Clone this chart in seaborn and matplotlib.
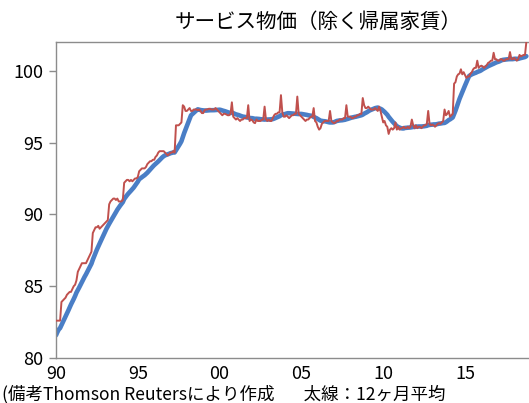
import matplotlib
matplotlib.use("Agg")
import matplotlib.pyplot as plt
import numpy as np
import pandas as pd
import seaborn as sns

# Monthly service CPI (excluding imputed rent)
y1989 = [80.0, 80.0, 80.4, 81.4, 81.5, 81.6, 81.7, 81.8, 81.9, 82.0, 82.0, 82.1]
y1990 = [82.6, 82.6, 82.6, 82.6, 83.9, 84.0, 84.1, 84.2, 84.4, 84.5, 84.6, 84.6]
y1991 = [84.8, 85.0, 85.1, 85.4, 86.0, 86.2, 86.4, 86.6, 86.6, 86.6, 86.6, 86.8]
y1992 = [87.0, 87.2, 87.4, 88.7, 88.9, 89.1, 89.1, 89.2, 89.0, 89.1, 89.2, 89.3]
y1993 = [89.4, 89.5, 89.6, 90.7, 90.9, 91.0, 91.1, 91.1, 91.0, 91.1, 90.9, 90.9]
y1994 = [90.9, 91.0, 92.2, 92.3, 92.4, 92.4, 92.3, 92.4, 92.3, 92.4, 92.5, 92.5]
y1995 = [92.6, 93.0, 93.1, 93.2, 93.2, 93.2, 93.3, 93.5, 93.6, 93.7, 93.7, 93.8]
y1996 = [93.8, 94.0, 94.1, 94.3, 94.4, 94.4, 94.4, 94.4, 94.3, 94.2, 94.1, 94.2]
y1997 = [94.3, 94.3, 94.4, 94.3, 96.2, 96.2, 96.2, 96.3, 96.4, 97.6, 97.5, 97.2]
y1998 = [97.2, 97.3, 97.4, 97.2, 97.2, 97.3, 97.3, 97.3, 97.25, 97.3, 97.2, 97.05]
y1999 = [97.05, 97.25, 97.3, 97.3, 97.35, 97.35, 97.3, 97.3, 97.3, 97.4, 97.3, 97.2]
y2000 = [97.1, 97.0, 96.9, 97.0, 97.0, 96.95, 96.9, 96.9, 97.0, 97.8, 96.8, 96.7]
y2001 = [96.6, 96.7, 96.6, 96.5, 96.6, 96.6, 96.7, 96.7, 96.7, 97.6, 96.5, 96.6]
y2002 = [96.55, 96.4, 96.35, 96.6, 96.5, 96.5, 96.5, 96.6, 96.6, 97.5, 96.6, 96.5]
y2003 = [96.6, 96.5, 96.5, 96.7, 96.9, 97.0, 97.0, 97.1, 97.1, 98.3, 97.1, 96.8]
y2004 = [96.8, 96.9, 96.8, 96.7, 96.8, 96.9, 96.9, 97.0, 97.0, 98.2, 97.0, 96.9]
y2005 = [96.8, 96.7, 96.6, 96.5, 96.6, 96.6, 96.7, 96.8, 96.8, 97.4, 96.5, 96.4]
y2006 = [96.1, 95.9, 96.0, 96.3, 96.4, 96.5, 96.5, 96.5, 96.5, 97.2, 96.5, 96.4]
y2007 = [96.35, 96.4, 96.5, 96.5, 96.6, 96.6, 96.6, 96.7, 96.7, 97.6, 96.8, 96.8]
y2008 = [96.8, 96.7, 96.7, 96.8, 96.8, 96.9, 96.9, 97.0, 97.0, 98.1, 97.6, 97.4]
y2009 = [97.4, 97.5, 97.4, 97.3, 97.3, 97.3, 97.4, 97.3, 97.2, 97.5, 97.2, 96.8]
y2010 = [96.4, 96.5, 96.2, 96.1, 95.6, 95.9, 96.0, 95.9, 96.0, 96.4, 95.9, 96.1]
y2011 = [95.9, 96.0, 96.0, 96.1, 96.0, 96.0, 96.1, 96.0, 96.1, 96.6, 96.2, 96.0]
y2012 = [96.2, 96.0, 96.1, 96.1, 96.0, 96.1, 96.2, 96.2, 96.3, 97.2, 96.3, 96.2]
y2013 = [96.25, 96.2, 96.1, 96.2, 96.3, 96.35, 96.3, 96.4, 96.5, 97.3, 96.9, 97.0]
y2014 = [97.2, 96.8, 96.9, 97.0, 99.1, 99.2, 99.6, 99.75, 99.8, 100.1, 99.75, 99.9]
y2015 = [99.7, 99.5, 99.6, 99.6, 99.8, 99.9, 100.1, 100.2, 100.2, 100.7, 100.2, 100.3]
y2016 = [100.35, 100.3, 100.2, 100.3, 100.4, 100.55, 100.6, 100.7, 100.7, 101.25, 100.8, 100.8]
y2017 = [100.7, 100.7, 100.8, 100.8, 100.7, 100.7, 100.8, 100.8, 100.8, 101.3, 100.8, 100.8]
y2018 = [100.9, 100.8, 100.7, 100.8, 101.1, 101.0, 101.05, 101.1, 101.1, 102.0]

yearly = [y1989, y1990, y1991, y1992, y1993, y1994, y1995, y1996, y1997, y1998,
          y1999, y2000, y2001, y2002, y2003, y2004, y2005, y2006, y2007, y2008,
          y2009, y2010, y2011, y2012, y2013, y2014, y2015, y2016, y2017, y2018]
first_year = 1989

tick_years = [1990, 1995, 2000, 2005, 2010, 2015]
tick_labels = ["90", "95", "00", "05", "10", "15"]
y_ticks = [80, 85, 90, 95, 100]

title = "サービス物価（除く帰属家賃）"
note = "(備考Thomson Reutersにより作成\u3000   太線：12ヶ月平均"

rows = []
for k, vals in enumerate(yearly):
    for m, v in enumerate(vals):
        rows.append({"t": first_year + k + m / 12.0, "cpi": v})
df = pd.DataFrame(rows)
df["ma12"] = df["cpi"].rolling(12).mean()
plot_df = df[df["t"] >= 1990].reset_index(drop=True)

sns.set_style("white")
plt.rcParams["font.family"] = ["Noto Sans CJK JP", "DejaVu Sans"]

W, H = 529, 403
fig = plt.figure(figsize=(W / 100, H / 100), dpi=100)
ax = fig.add_axes([56 / W, 45 / H, (W - 56) / W, 316 / H])

sns.lineplot(data=plot_df, x="t", y="ma12", color="#4A7EC6", linewidth=3.3,
             estimator=None, ax=ax, zorder=2)
sns.lineplot(data=plot_df, x="t", y="cpi", color="#C0504D", linewidth=1.4,
             estimator=None, ax=ax, zorder=3)

ax.set_xlim(1990, 1990 + (W - 56) / 16.36)
ax.set_ylim(80, 102)
ax.set_xticks(tick_years)
ax.set_xticklabels(tick_labels)
ax.set_yticks(y_ticks)
ax.set_xlabel("")
ax.set_ylabel("")

for side in ["left", "bottom", "top"]:
    ax.spines[side].set_color("#8C8C8C")
    ax.spines[side].set_linewidth(1.0)
ax.spines["right"].set_visible(False)

ax.tick_params(axis="y", which="both", left=True, length=5, width=1, color="#8C8C8C",
               pad=4, labelsize=13, labelcolor="#000000")
ax.tick_params(axis="x", which="both", bottom=False, length=0, pad=5,
               labelsize=13, labelcolor="#000000")
ax.grid(False)

fig.text(318 / W, 1 - 22 / H, title, ha="center", va="center", fontsize=14.8, color="#000000")
fig.text(2 / W, 1 - 394 / H, note, ha="left", va="center", fontsize=12.6, color="#000000")

fig.savefig("out.png", dpi=100)
